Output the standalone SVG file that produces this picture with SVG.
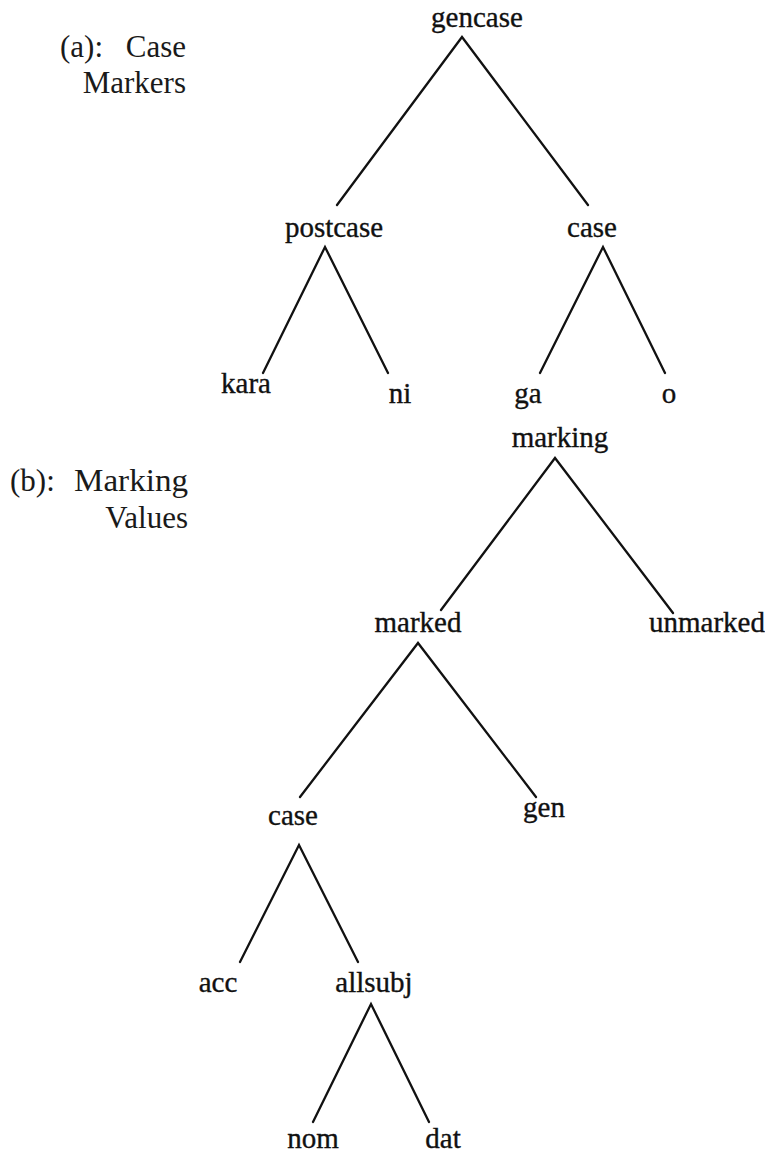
<svg xmlns="http://www.w3.org/2000/svg" width="765" height="1154" viewBox="0 0 765 1154">
  <style>
    .node { font-family: "Liberation Serif", "Times New Roman", serif; font-size: 29px; fill: #111; stroke: #111; stroke-width: 0.35; text-anchor: middle; }
    .side { font-family: "Liberation Serif", "Times New Roman", serif; font-size: 31px; fill: #1a1a1a; }
    .end { text-anchor: end; }
    .edge { stroke: #111; stroke-width: 2.3; fill: none; stroke-linecap: round; }
  </style>
  <rect width="765" height="1154" fill="#ffffff"/>

  <!-- panel captions -->
  <g id="caption-a">
    <text class="side" x="60" y="57">(a):</text>
    <text class="side end" x="186" y="57">Case</text>
    <text class="side end" x="186" y="93">Markers</text>
  </g>
  <g id="caption-b">
    <text class="side" x="10" y="491">(b):</text>
    <text class="side end" x="188" y="491" textLength="114" lengthAdjust="spacingAndGlyphs">Marking</text>
    <text class="side end" x="188" y="528">Values</text>
  </g>

  <!-- tree edges -->
  <g id="connectors">
    <!-- tree (a) -->
    <path class="edge" d="M337,205 L462,37 L588,205"/>
    <path class="edge" d="M263,373 L325,247 L388,373"/>
    <path class="edge" d="M540,373 L603,247 L665,373"/>
    <!-- tree (b) -->
    <path class="edge" d="M441,610 L555,458 L673,613"/>
    <path class="edge" d="M300,797 L418,643 L536,797"/>
    <path class="edge" d="M240,962 L299,845 L358,962"/>
    <path class="edge" d="M313,1122 L371,1004 L429,1122"/>
  </g>

  <!-- tree (a) nodes -->
  <g id="n-gencase"><text class="node" x="477" y="27">gencase</text></g>
  <g id="n-postcase"><text class="node" x="334" y="237">postcase</text></g>
  <g id="n-case-a"><text class="node" x="592" y="237">case</text></g>
  <g id="n-kara"><text class="node" x="246" y="393">kara</text></g>
  <g id="n-ni"><text class="node" x="400" y="403">ni</text></g>
  <g id="n-ga"><text class="node" x="528" y="403">ga</text></g>
  <g id="n-o"><text class="node" x="669" y="403">o</text></g>

  <!-- tree (b) nodes -->
  <g id="n-marking"><text class="node" x="560" y="447">marking</text></g>
  <g id="n-marked"><text class="node" x="418" y="632">marked</text></g>
  <g id="n-unmarked"><text class="node" x="707" y="632">unmarked</text></g>
  <g id="n-case-b"><text class="node" x="293" y="825">case</text></g>
  <g id="n-gen"><text class="node" x="544" y="817">gen</text></g>
  <g id="n-acc"><text class="node" x="218" y="992">acc</text></g>
  <g id="n-allsubj"><text class="node" x="374" y="992">allsubj</text></g>
  <g id="n-nom"><text class="node" x="313" y="1148">nom</text></g>
  <g id="n-dat"><text class="node" x="443" y="1148">dat</text></g>
</svg>
